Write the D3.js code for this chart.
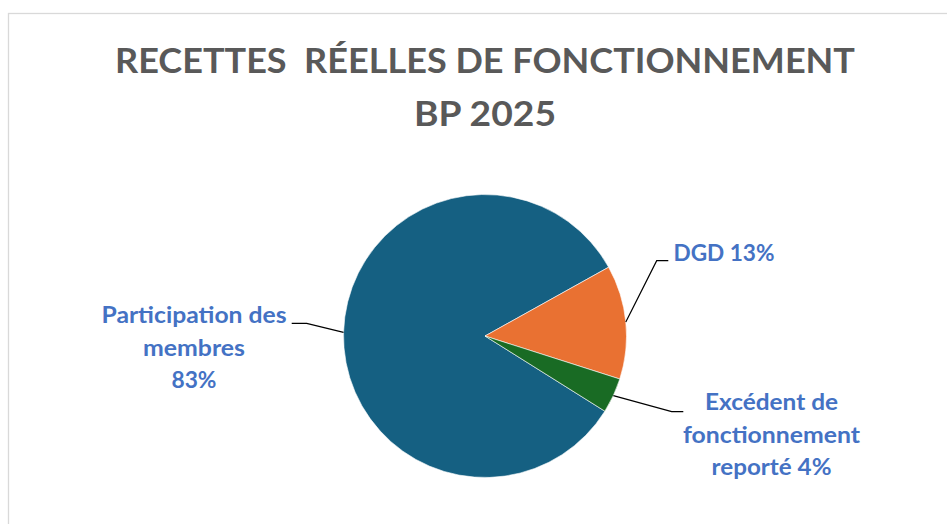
<!DOCTYPE html>
<html>
<head>
<meta charset="utf-8">
<script src="https://cdn.jsdelivr.net/npm/d3@7"></script>
<style>
  html, body { margin: 0; padding: 0; background: #fff; }
  svg { display: block; }
</style>
</head>
<body>
<script>
// data
const categories = ["Participation des membres", "DGD", "Excédent de fonctionnement reporté"]
const values = [83, 13, 4]
const colors = ["#156082", "#E97132", "#196B24"]
const titleLines = ["RECETTES  RÉELLES DE FONCTIONNEMENT", "BP 2025"]
const labelLines = [
  ["Participation des", "membres", "83%"],
  ["DGD 13%"],
  ["Excédent de", "fonctionnement", "reporté 4%"]
]

// layout
const width = 947, height = 524
const cx = 485, cy = 336, radius = 141.5
const firstSliceAngle = 122.1 * Math.PI / 180
const titleFont = 35, labelFont = 23.7, labelLineH = 32.5
const titleLayout = [{y: 73.3, w: 740}, {y: 126, w: 142}]
const labelLayout = [
  {x: 194, y: 323.3, widths: [185, 102, 45], elbow: [306.7, 323.3], end: [291.7, 323.3]},
  {x: 724, y: 260.7, widths: [101], elbow: [656.7, 260.7], end: [668.3, 260.7]},
  {x: 771.5, y: 410, widths: [133, 177, 120], elbow: [671.7, 411.7], end: [683.3, 411.7]}
]

const svg = d3.select("body").append("svg")
  .attr("width", width)
  .attr("height", height)

// chart area border
svg.append("rect")
  .attr("x", 8.5)
  .attr("y", 13.5)
  .attr("width", width + 20)
  .attr("height", height + 20)
  .attr("fill", "#fff")
  .attr("stroke", "#d9d9d9")
  .attr("stroke-width", 1.3)

function fitText(sel, w) {
  sel.attr("textLength", w).attr("lengthAdjust", "spacingAndGlyphs")
}

// title (keep the double space)
svg.append("g")
  .attr("font-family", "Lato, 'Open Sans', sans-serif")
  .attr("font-weight", 700)
  .attr("font-size", titleFont)
  .attr("fill", "#595959")
  .attr("text-anchor", "middle")
  .style("white-space", "pre")
  .selectAll("text")
  .data(titleLines)
  .join("text")
    .attr("xml:space", "preserve")
    .attr("x", cx)
    .attr("y", (d, i) => titleLayout[i].y)
    .text(d => d)
    .each(function(d, i) { fitText(d3.select(this), titleLayout[i].w) })

// pie
const pie = d3.pie()
  .sort(null)
  .value(d => d)
  .startAngle(firstSliceAngle)
  .endAngle(firstSliceAngle + 2 * Math.PI)

const arc = d3.arc().innerRadius(0).outerRadius(radius)
const arcs = pie(values)

const gPie = svg.append("g").attr("transform", `translate(${cx},${cy})`)
gPie.selectAll("path")
  .data(arcs)
  .join("path")
    .attr("d", arc)
    .attr("fill", (d, i) => colors[i])
    .attr("stroke", "#fff")
    .attr("stroke-width", 0.6)
    .attr("stroke-linejoin", "round")

// leader lines from slice mid-angle on the edge
svg.append("g")
  .attr("fill", "none")
  .attr("stroke", "#000")
  .attr("stroke-width", 1.2)
  .selectAll("polyline")
  .data(arcs)
  .join("polyline")
    .attr("points", (d, i) => {
      const a = (d.startAngle + d.endAngle) / 2
      const p0 = [cx + radius * Math.sin(a), cy - radius * Math.cos(a)]
      const L = labelLayout[i]
      return [p0, L.elbow, L.end].map(p => p.join(",")).join(" ")
    })

// data labels
const gLabels = svg.append("g")
  .attr("font-family", "Lato, 'Open Sans', sans-serif")
  .attr("font-weight", 700)
  .attr("font-size", labelFont)
  .attr("fill", "#4472C4")
  .attr("text-anchor", "middle")

labelLines.forEach((lines, i) => {
  const L = labelLayout[i]
  gLabels.append("text")
    .attr("data-category", categories[i])
    .selectAll("tspan")
    .data(lines)
    .join("tspan")
      .attr("x", L.x)
      .attr("y", (d, j) => L.y + j * labelLineH)
      .text(d => d)
      .each(function(d, j) { fitText(d3.select(this), L.widths[j]) })
})
</script>
</body>
</html>
